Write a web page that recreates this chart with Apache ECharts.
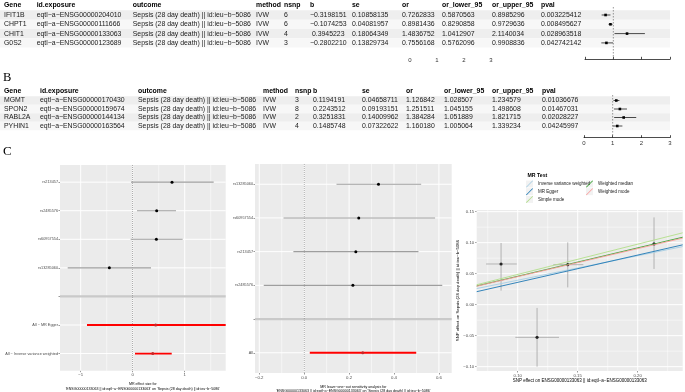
<!DOCTYPE html>
<html>
<head>
<meta charset="utf-8">
<script src="https://cdn.jsdelivr.net/npm/echarts@6.0.0/dist/echarts.min.js"></script>
<style>
html,body{margin:0;padding:0;background:#ffffff;}
#chart{width:685px;height:392px;}
</style>
</head>
<body>
<div id="chart"></div>
<script>
const M = '\u2212';
const FONT = 'Liberation Sans, Arial, Helvetica, sans-serif';

// ---------------- Panel A table ----------------
const headers = ['Gene','id.exposure','outcome','method','nsnp','b','se','or','or_lower_95','or_upper_95','pval'];
const genesA = ['IFIT1B','CHPT1','CHIT1','G0S2'];
const exposureA = ['eqtl'+M+'a'+M+'ENSG00000204010','eqtl'+M+'a'+M+'ENSG00000111666','eqtl'+M+'a'+M+'ENSG00000133063','eqtl'+M+'a'+M+'ENSG00000123689'];
const outcomeText = 'Sepsis (28 day death) || id:ieu'+M+'b'+M+'5086';
const methodText = 'IVW';
const nsnpA = ['6','6','4','3'];
const bA = [M+'0.3198151', M+'0.1074253', ' 0.3945223', M+'0.2802210'];
const seA = ['0.10858135','0.04081957','0.18064349','0.13829734'];
const orA = ['0.7262833','0.8981436','1.4836752','0.7556168'];
const orLowA = ['0.5870563','0.8290858','1.0412907','0.5762096'];
const orUpA = ['0.8985296','0.9729636','2.1140034','0.9908836'];
const pvalA = ['0.003225412','0.008495627','0.028963518','0.042742142'];
const forestTicks = [0,1,2,3];

// ---------------- Panel B table ----------------
const genesB = ['MGMT','SPON2','RABL2A','PYHIN1'];
const exposureB = ['eqtl'+M+'a'+M+'ENSG00000170430','eqtl'+M+'a'+M+'ENSG00000159674','eqtl'+M+'a'+M+'ENSG00000144134','eqtl'+M+'a'+M+'ENSG00000163564'];
const nsnpB = ['3','8','2','4'];
const bB = ['0.1194191','0.2243512','0.3251831','0.1485748'];
const seB = ['0.04658711','0.09193151','0.14009962','0.07322622'];
const orB = ['1.126842','1.251511','1.384284','1.160180'];
const orLowB = ['1.028507','1.045155','1.051889','1.005064'];
const orUpB = ['1.234579','1.498608','1.821715','1.339234'];
const pvalB = ['0.01036676','0.01467031','0.02028227','0.04245997'];

// ---------------- Panel C: forest (single SNP) ----------------
const f1Labels = ['rs213457','rs2485576','rs60957554','rs13285060','','All '+M+' MR Egger','All '+M+' Inverse variance weighted'];
const f1SnpB  = [0.756, 0.461, 0.455, -0.449];
const f1SnpLo = [-0.033, 0.083, -0.040, -1.250];
const f1SnpHi = [1.557, 0.833, 0.960, 0.352];
const f1AllB  = [0.442, 0.385];
const f1AllLo = [-0.879, 0.044];
const f1AllHi = [1.788, 0.750];
const f1TickLabels = [-1, 0, 1];

// ---------------- Panel C: leave-one-out ----------------
const f2Labels = ['rs13285060','rs60957554','rs213457','rs2485576','','All'];
const f2SnpB  = [0.331, 0.243, 0.230, 0.217];
const f2SnpLo = [0.144, -0.092, -0.048, -0.180];
const f2SnpHi = [0.521, 0.583, 0.509, 0.615];
const f2AllB  = [0.261];
const f2AllLo = [0.025];
const f2AllHi = [0.499];
const f2TickLabels = [-0.2, 0, 0.2, 0.4, 0.6];

// ---------------- Panel C: scatter ----------------
const snpX   = [0.0861, 0.1417, 0.2136, 0.1161];
const snpY   = [0.0656, 0.0645, 0.0979, -0.0527];
const snpXLo = [0.0736, 0.1297, 0.2117, 0.0980];
const snpXHi = [0.0992, 0.1547, 0.2155, 0.1344];
const snpYLo = [0.0226, 0.0279, 0.0576, -0.1000];
const snpYHi = [0.0995, 0.1005, 0.1408, -0.0053];
const mrMethods = ['Inverse variance weighted','MR Egger','Simple mode','Weighted median','Weighted mode'];
const mrSlopes = [0.3945, 0.440, 0.488, 0.458, 0.452];
const mrIntercepts = [0, -0.008, 0, 0, 0];
const scX = [0.10, 0.15, 0.20];
const scY = [-0.10, -0.05, 0, 0.05, 0.10, 0.15];

// ---------------- styles ----------------
const mrColors = ['#a6cee3','#1f78b4','#b2df8a','#33a02c','#fb9a99'];
const PANEL = '#ebebeb';
const TFS = 6.9;
const fmt = (v, d) => (v < 0 ? M : '') + Math.abs(v).toFixed(d);

// ---------------- table graphics ----------------
function tableGraphics(headerY, rowYs, bandH, cols, rows) {
  const els = [];
  rowYs.forEach((y, i) => {
    els.push({type:'rect', z:-5, silent:true, shape:{x:0, y:y - bandH/2, width:670, height:bandH},
      style:{fill: i % 2 === 0 ? '#eeeeee' : '#f7f7f7'}});
  });
  headers.forEach((h, j) => {
    els.push({type:'text', x:cols[j], y:headerY, silent:true,
      style:{text:h, fontSize:TFS, fontWeight:'bold', fontFamily:FONT, fill:'#000', verticalAlign:'middle', align:'left'}});
  });
  rows.forEach((r, i) => r.forEach((t, j) => {
    els.push({type:'text', x:cols[j], y:rowYs[i], silent:true,
      style:{text:t, fontSize:TFS, fontFamily:FONT, fill:'#1a1a1a', verticalAlign:'middle', align:'left'}});
  }));
  return els;
}
const rowsA = genesA.map((g, i) => [g, exposureA[i], outcomeText, methodText, nsnpA[i], bA[i], seA[i], orA[i], orLowA[i], orUpA[i], pvalA[i]]);
const rowsB = genesB.map((g, i) => [g, exposureB[i], outcomeText, methodText, nsnpB[i], bB[i], seB[i], orB[i], orLowB[i], orUpB[i], pvalB[i]]);
const colsA = [4, 36.7, 132.7, 256, 284, 310, 352, 402, 442, 492, 541];
const colsB = [4, 40, 138, 263, 295, 313, 362, 406, 444, 492, 542];
const rowYA = [15, 24.3, 33.6, 42.9];
const rowYB = [100.5, 109, 117.5, 126];

const keyBoxes = [];
for (let i = 0; i < 3; i++) keyBoxes.push({type:'rect', z:-5, silent:true, shape:{x:526, y:180.5 + i*7.7, width:7, height:7}, style:{fill:'#f2f2f2'}});
for (let i = 0; i < 2; i++) keyBoxes.push({type:'rect', z:-5, silent:true, shape:{x:586, y:180.5 + i*7.7, width:7, height:7}, style:{fill:'#f2f2f2'}});

const graphics = []
  .concat(tableGraphics(5, rowYA, 9.3, colsA, rowsA))
  .concat(tableGraphics(91.5, rowYB, 8.5, colsB, rowsB))
  .concat(keyBoxes)
  .concat([
    {type:'text', x:3, y:78, silent:true, style:{text:'B', fontSize:12.5, fontFamily:'Liberation Serif, Times New Roman, serif', fill:'#000', verticalAlign:'middle'}},
    {type:'text', x:3, y:152, silent:true, style:{text:'C', fontSize:13, fontFamily:'Liberation Serif, Times New Roman, serif', fill:'#000', verticalAlign:'middle'}}
  ]);

// ---------------- render helpers ----------------
function ciRender(lineColor, lineWidth, ptColor, ptSize, shape) {
  return function (params, api) {
    const y = api.value(0);
    const a = api.coord([api.value(1), y]);
    const m = api.coord([api.value(2), y]);
    const b = api.coord([api.value(3), y]);
    const pt = shape === 'circle'
      ? {type:'circle', shape:{cx:m[0], cy:m[1], r:ptSize/2}, style:{fill:ptColor}}
      : {type:'rect', shape:{x:m[0]-ptSize/2, y:m[1]-ptSize/2, width:ptSize, height:ptSize}, style:{fill:ptColor}};
    return {type:'group', children:[
      {type:'line', shape:{x1:a[0], y1:a[1], x2:b[0], y2:b[1]}, style:{stroke:lineColor, lineWidth:lineWidth}},
      pt
    ]};
  };
}
function vLines(xi, yi, values, color, width, dash, z) {
  return {type:'custom', xAxisIndex:xi, yAxisIndex:yi, silent:true, z:z || 1,
    data: values.map(v => [v]), encode:{x:0},
    renderItem: function (params, api) {
      const cs = params.coordSys;
      const x = api.coord([api.value(0), 0])[0];
      return {type:'line', shape:{x1:x, y1:cs.y, x2:x, y2:cs.y + cs.height},
        style:{stroke:color, lineWidth:width, lineDash: dash || null}};
    }};
}
function hLines(xi, yi, values, color, width, z) {
  return {type:'custom', xAxisIndex:xi, yAxisIndex:yi, silent:true, z:z || 1,
    data: values.map(v => [0, v]), encode:{y:1},
    renderItem: function (params, api) {
      const cs = params.coordSys;
      const y = api.coord([0, api.value(1)])[1];
      return {type:'line', shape:{x1:cs.x, y1:y, x2:cs.x + cs.width, y2:y},
        style:{stroke:color, lineWidth:width}};
    }};
}

const forestA = genesA.map((g, i) => [i + 1, parseFloat(orLowA[i]), parseFloat(orA[i]), parseFloat(orUpA[i])]);
const forestB = genesB.map((g, i) => [i + 1, parseFloat(orLowB[i]), parseFloat(orB[i]), parseFloat(orUpB[i])]);
const f1Snp = f1SnpB.map((b, i) => [i + 1, f1SnpLo[i], b, f1SnpHi[i]]);
const f1All = f1AllB.map((b, i) => [i + 6, f1AllLo[i], b, f1AllHi[i]]);
const f2Snp = f2SnpB.map((b, i) => [i + 1, f2SnpLo[i], b, f2SnpHi[i]]);
const f2All = f2AllB.map((b, i) => [i + 6, f2AllLo[i], b, f2AllHi[i]]);
const scErr = snpX.map((x, i) => [x, snpY[i], snpXLo[i], snpXHi[i], snpYLo[i], snpYHi[i]]);

const SCX = [0.0658, 0.2375];
const SCY = [-0.107, 0.1527];

const tickStyle = {fontSize:4.3, color:'#4d4d4d', fontFamily:FONT};
const hiddenY = (gi, min, max) => ({gridIndex:gi, type:'value', min:min, max:max, inverse:true, show:false});

const option = {
  animation: false,
  backgroundColor: '#ffffff',
  textStyle: {fontFamily: FONT},
  graphic: {elements: graphics},
  title: [{text:'MR Test', left:527.5, top:173, padding:0, textStyle:{fontSize:5.2, fontWeight:'bold', color:'#000', fontFamily:FONT}}],
  legend: [
    {orient:'vertical', left:526, top:180.5, padding:0, itemGap:0.7, itemWidth:7, itemHeight:7, selectedMode:false,
     icon:'path://M0,9.2L9.2,0L10,0.8L0.8,10Z', data:mrMethods.slice(0,3), textStyle:{fontSize:4.5, color:'#1a1a1a', fontFamily:FONT}},
    {orient:'vertical', left:586, top:180.5, padding:0, itemGap:0.7, itemWidth:7, itemHeight:7, selectedMode:false,
     icon:'path://M0,9.2L9.2,0L10,0.8L0.8,10Z', data:mrMethods.slice(3), textStyle:{fontSize:4.5, color:'#1a1a1a', fontFamily:FONT}}
  ],
  grid: [
    {left:585, top:7, width:85, height:52.3, outerBoundsMode:'none'},
    {left:410, top:54, width:81, height:1, outerBoundsMode:'none'},
    {left:584, top:95, width:86, height:42.7, outerBoundsMode:'none'},
    {left:60, top:165, width:165.7, height:205.7, show:true, backgroundColor:PANEL, borderWidth:0, outerBoundsMode:'none'},
    {left:255, top:164, width:196.7, height:209, show:true, backgroundColor:PANEL, borderWidth:0, outerBoundsMode:'none'},
    {left:476.7, top:210, width:206, height:161, show:true, backgroundColor:PANEL, borderWidth:0, outerBoundsMode:'none'}
  ],
  xAxis: [
    {gridIndex:0, type:'value', min:0, max:3, interval:1,
     axisLine:{show:true, onZero:false, lineStyle:{color:'#000', width:0.7}},
     axisTick:{show:true, inside:true, length:2.5, lineStyle:{color:'#000', width:0.7}},
     axisLabel:{show:false}, splitLine:{show:false}},
    {gridIndex:1, type:'value', min:0, max:3, interval:1,
     axisLine:{show:false, onZero:false}, axisTick:{show:false},
     axisLabel:{show:true, fontSize:6, color:'#333', margin:2, fontFamily:FONT}, splitLine:{show:false}},
    {gridIndex:2, type:'value', min:0, max:3, interval:1,
     axisLine:{show:true, onZero:false, lineStyle:{color:'#000', width:0.7}},
     axisTick:{show:true, inside:true, length:2.5, lineStyle:{color:'#000', width:0.7}},
     axisLabel:{show:true, fontSize:6, color:'#333', margin:3, fontFamily:FONT}, splitLine:{show:false}},
    {gridIndex:3, type:'value', min:-1.398, max:1.788,
     axisLine:{show:false, onZero:false},
     axisTick:{show:true, customValues:f1TickLabels, length:1.5, lineStyle:{color:'#333', width:0.5}},
     axisLabel:{show:true, customValues:f1TickLabels, formatter:v => fmt(v, 0), margin:2.5, ...tickStyle},
     splitLine:{show:false},
     name:'MR effect size for\n\'ENSG00000133063 || id:eqtl'+M+'a'+M+'ENSG00000133063\' on \'Sepsis (28 day death) || id:ieu'+M+'b'+M+'5086\'',
     nameLocation:'middle', nameGap:6, nameTextStyle:{fontSize:3.6, lineHeight:4.3, color:'#000', fontFamily:FONT}},
    {gridIndex:4, type:'value', min:-0.219, max:0.657,
     axisLine:{show:false, onZero:false},
     axisTick:{show:true, customValues:f2TickLabels, length:1.5, lineStyle:{color:'#333', width:0.5}},
     axisLabel:{show:true, customValues:f2TickLabels, formatter:v => fmt(v, 1), margin:2.5, ...tickStyle},
     splitLine:{show:false},
     name:'MR leave'+M+'one'+M+'out sensitivity analysis for\n\'ENSG00000133063 || id:eqtl'+M+'a'+M+'ENSG00000133063\' on \'Sepsis (28 day death) || id:ieu'+M+'b'+M+'5086\'',
     nameLocation:'middle', nameGap:7.5, nameTextStyle:{fontSize:3.6, lineHeight:4.3, color:'#000', fontFamily:FONT}},
    {gridIndex:5, type:'value', min:SCX[0], max:SCX[1],
     axisLine:{show:false, onZero:false},
     axisTick:{show:true, customValues:scX, length:1.5, lineStyle:{color:'#333', width:0.5}},
     axisLabel:{show:true, customValues:scX, formatter:v => fmt(v, 2), margin:2.5, ...tickStyle},
     splitLine:{show:false},
     name:'SNP effect on ENSG00000133063 || id:eqtl'+M+'a'+M+'ENSG00000133063',
     nameLocation:'middle', nameGap:7, nameTextStyle:{fontSize:4.5, color:'#000', fontFamily:FONT}}
  ],
  yAxis: [
    hiddenY(0, 0.14, 5.764),
    hiddenY(1, 0, 1),
    hiddenY(2, 0.353, 5.376),
    {gridIndex:3, type:'value', min:0.4, max:7.6, inverse:true,
     axisLine:{show:false, onZero:false},
     axisTick:{show:true, customValues:[1,2,3,4,5,6,7], length:1.5, lineStyle:{color:'#333', width:0.5}},
     axisLabel:{show:true, customValues:[1,2,3,4,5,6,7], formatter:v => f1Labels[Math.round(v) - 1], margin:2, fontSize:3.8, color:'#4d4d4d', fontFamily:FONT},
     splitLine:{show:false}},
    {gridIndex:4, type:'value', min:0.4, max:6.6, inverse:true,
     axisLine:{show:false, onZero:false},
     axisTick:{show:true, customValues:[1,2,3,4,5,6], length:1.5, lineStyle:{color:'#333', width:0.5}},
     axisLabel:{show:true, customValues:[1,2,3,4,5,6], formatter:v => f2Labels[Math.round(v) - 1], margin:2, fontSize:3.8, color:'#4d4d4d', fontFamily:FONT},
     splitLine:{show:false}},
    {gridIndex:5, type:'value', min:SCY[0], max:SCY[1],
     axisLine:{show:false, onZero:false},
     axisTick:{show:true, customValues:scY, length:1.5, lineStyle:{color:'#333', width:0.5}},
     axisLabel:{show:true, customValues:scY, formatter:v => fmt(v, 2), margin:2.5, ...tickStyle},
     splitLine:{show:false},
     name:'SNP effect on Sepsis (28 day death) || id:ieu'+M+'b'+M+'5086',
     nameLocation:'middle', nameRotate:90, nameGap:13.5, nameTextStyle:{fontSize:4.3, color:'#000', fontFamily:FONT}}
  ],
  series: [
    vLines(0, 0, [1], '#555', 0.6, [1.5, 1.5], 3),
    {type:'custom', xAxisIndex:0, yAxisIndex:0, z:4, data:forestA, encode:{x:[1,2,3], y:0}, renderItem:ciRender('#000', 0.7, '#000', 2.6, 'rect')},
    {type:'scatter', xAxisIndex:1, yAxisIndex:1, data:[], silent:true},
    vLines(2, 2, [1], '#555', 0.6, [1.5, 1.5], 3),
    {type:'custom', xAxisIndex:2, yAxisIndex:2, z:4, data:forestB, encode:{x:[1,2,3], y:0}, renderItem:ciRender('#000', 0.7, '#000', 2.6, 'rect')},
    vLines(3, 3, [-0.5, 0.5, 1.5], '#ffffff', 0.5),
    vLines(3, 3, [-1, 0, 1], '#ffffff', 1),
    hLines(3, 3, [1,2,3,4,6,7], '#ffffff', 1),
    hLines(3, 3, [5], '#c9c9c9', 2.2, 2),
    vLines(3, 3, [0], '#7a7a7a', 0.6, [1, 1], 2),
    {type:'custom', xAxisIndex:3, yAxisIndex:3, z:4, data:f1Snp, encode:{x:[1,2,3], y:0}, renderItem:ciRender('#9e9e9e', 1.1, '#000', 3, 'circle')},
    {type:'custom', xAxisIndex:3, yAxisIndex:3, z:4, clip:true, data:f1All, encode:{x:[1,2,3], y:0}, renderItem:ciRender('#ff0000', 1.8, '#c62828', 3, 'circle')},
    vLines(4, 4, [-0.1, 0.1, 0.3, 0.5], '#ffffff', 0.5),
    vLines(4, 4, [-0.2, 0, 0.2, 0.4, 0.6], '#ffffff', 1),
    hLines(4, 4, [1,2,3,4,6], '#ffffff', 1),
    hLines(4, 4, [5], '#c9c9c9', 2.2, 2),
    vLines(4, 4, [0], '#7a7a7a', 0.6, [1, 1], 2),
    {type:'custom', xAxisIndex:4, yAxisIndex:4, z:4, data:f2Snp, encode:{x:[1,2,3], y:0}, renderItem:ciRender('#9e9e9e', 1.1, '#000', 3, 'circle')},
    {type:'custom', xAxisIndex:4, yAxisIndex:4, z:4, data:f2All, encode:{x:[1,2,3], y:0}, renderItem:ciRender('#ff0000', 1.8, '#c62828', 3, 'circle')},
    vLines(5, 5, [0.075, 0.125, 0.175, 0.225], '#ffffff', 0.5),
    vLines(5, 5, scX, '#ffffff', 1),
    hLines(5, 5, [-0.075, -0.025, 0.025, 0.075, 0.125], '#ffffff', 0.5),
    hLines(5, 5, scY, '#ffffff', 1),
    {type:'custom', xAxisIndex:5, yAxisIndex:5, z:3, data:scErr, encode:{x:[0,2,3], y:[1,4,5]},
     renderItem: function (params, api) {
       const x = api.value(0), y = api.value(1);
       const h1 = api.coord([api.value(2), y]), h2 = api.coord([api.value(3), y]);
       const v1 = api.coord([x, api.value(4)]), v2 = api.coord([x, api.value(5)]);
       return {type:'group', children:[
         {type:'line', shape:{x1:h1[0], y1:h1[1], x2:h2[0], y2:h2[1]}, style:{stroke:'#999999', lineWidth:0.7}},
         {type:'line', shape:{x1:v1[0], y1:v1[1], x2:v2[0], y2:v2[1]}, style:{stroke:'#999999', lineWidth:0.7}}
       ]};
     }},
    {type:'scatter', xAxisIndex:5, yAxisIndex:5, z:4, symbol:'circle', symbolSize:3.2, itemStyle:{color:'#000'},
     data: snpX.map((x, i) => [x, snpY[i]])}
  ].concat(mrMethods.map((name, i) => ({
    type:'line', name:name, xAxisIndex:5, yAxisIndex:5, z:5, symbol:'none', silent:true,
    color: mrColors[i], itemStyle:{color:mrColors[i]}, lineStyle:{color:mrColors[i], width:0.9},
    data: SCX.map(x => [x, mrIntercepts[i] + mrSlopes[i] * x])
  })))
};

const chart = echarts.init(document.getElementById('chart'), null, {renderer:'canvas'});
chart.setOption(option);
</script>
</body>
</html>
